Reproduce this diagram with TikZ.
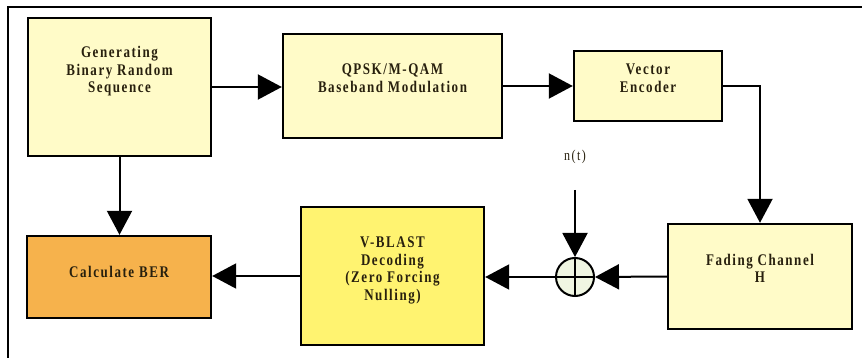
\documentclass[tikz,border=0pt]{standalone}
\usepackage{fontspec}
\usepackage{graphicx}
\setmainfont{Liberation Serif}[LetterSpace=12]
\usetikzlibrary{arrows.meta}
\definecolor{paleyel}{RGB}{255,251,200}
\definecolor{berorg}{RGB}{246,178,76}
\definecolor{blastyel}{RGB}{255,243,112}
\definecolor{sumfill}{RGB}{240,246,226}
\definecolor{inkdark}{RGB}{40,32,14}
\newcommand{\tall}[1]{\scalebox{1}[1.25]{\begin{tabular}{@{}c@{}}#1\end{tabular}}}
\tikzset{
  blk/.style={draw, line width=2.4pt, fill=paleyel, inner sep=0pt},
  txt/.style={inner sep=0pt, text=inkdark, font=\fontsize{13}{14}\selectfont\bfseries},
  conn/.style={line width=2pt, -{Triangle[length=24pt,width=25pt]}}
}
\begin{document}
\begin{tikzpicture}[x=1pt,y=-1pt]
  \useasboundingbox (0,0) rectangle (862,358);
  \draw[line width=1.4pt] (8,7) rectangle (880,380);
  % blocks
  \node[blk, minimum width=183pt, minimum height=138pt] (gen) at (119.5,87) {};
  \node[blk, minimum width=219pt, minimum height=104pt] (qpsk) at (392.5,86) {};
  \node[blk, minimum width=148pt, minimum height=70pt] (venc) at (648,86) {};
  \node[blk, fill=berorg, minimum width=184pt, minimum height=82pt] (ber) at (119,277) {};
  \node[blk, fill=blastyel, minimum width=183pt, minimum height=138pt] (vblast) at (392.5,276) {};
  \node[blk, minimum width=184pt, minimum height=105pt] (fade) at (760,276.5) {};
  \node[draw, circle, line width=2pt, fill=sumfill, minimum size=38pt, inner sep=0pt] (sum) at (575,277) {};
  \draw[line width=2pt] (sum.north) -- (sum.south) (sum.west) -- (sum.east);
  % texts
  \node[txt] (gentx) at (119.5,72) {\tall{Generating\\Binary Random\\Sequence}};
  \node[txt] (qpsktx) at (392.5,80) {\tall{QPSK/M-QAM\\Baseband Modulation}};
  \node[txt] (venctx) at (648,80) {\tall{Vector\\Encoder}};
  \node[txt] (bertx) at (119,274) {\tall{Calculate BER}};
  \node[txt] (vblasttx) at (392.5,270.5) {\tall{V-BLAST\\Decoding\\(Zero Forcing\\Nulling)}};
  \node[txt] (fadetx) at (760,270.5) {\tall{Fading Channel\\H}};
  \node[txt, font=\fontsize{12}{14}\selectfont] (noisetx) at (575,157) {\tall{n(t)}};
  \coordinate (noise) at (575,190);
  % connectors
  \draw[conn] (gen.east) -- (gen.east -| qpsk.west);
  \draw[conn] (qpsk.east) -- (venc.west);
  \draw[conn] (venc.east) -| (fade.north);
  \draw[conn] (gen.south) -- (gen.south |- ber.north);
  \draw[conn] (fade.west) -- (sum.east);
  \draw[conn] (noise) -- (sum.north);
  \draw[conn] (sum.west) -- (sum.west -| vblast.east);
  \draw[conn] (vblast.west) -- (vblast.west -| ber.east);
\end{tikzpicture}
\end{document}
